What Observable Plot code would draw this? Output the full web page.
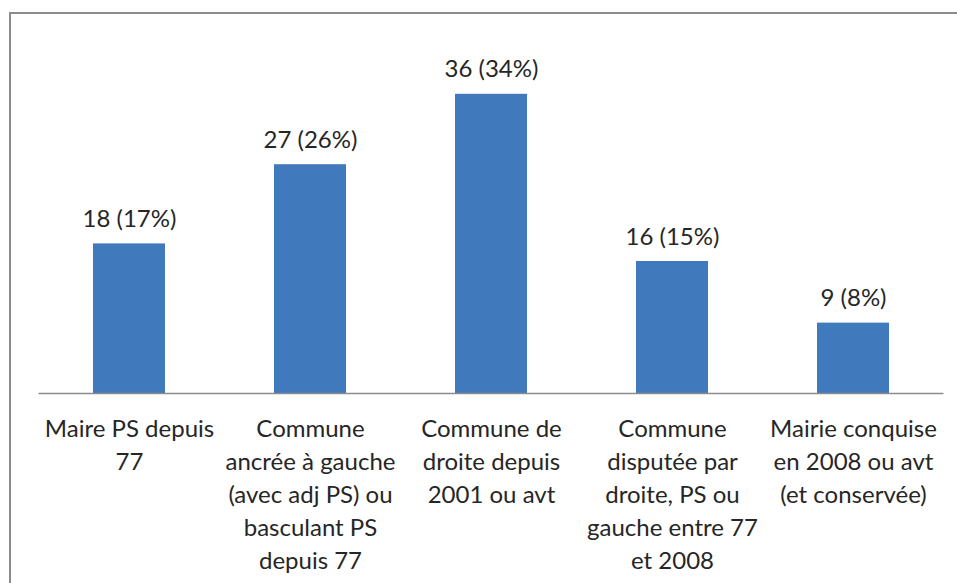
<!DOCTYPE html>
<html>
<head>
<meta charset="utf-8">
<script src="https://cdn.jsdelivr.net/npm/d3@7"></script>
<script src="https://cdn.jsdelivr.net/npm/@observablehq/plot@0.6"></script>
<style>
  html, body { margin: 0; padding: 0; background: #fff; width: 957px; height: 583px; overflow: hidden; }
  #frame { position: absolute; left: 9px; top: 12px; width: 1100px; height: 800px;
           border-top: 2px solid #8c8c8c; border-left: 2px solid #8c8c8c; box-sizing: border-box; }
  #chart { position: absolute; left: 0; top: 0; }
</style>
</head>
<body>
<div id="frame"></div>
<div id="chart"></div>
<script>
const categories = [
  "Maire PS depuis\n77",
  "Commune\nancrée à gauche\n(avec adj PS) ou\nbasculant PS\ndepuis 77",
  "Commune de\ndroite depuis\n2001 ou avt",
  "Commune\ndisputée par\ndroite, PS ou\ngauche entre 77\net 2008",
  "Mairie conquise\nen 2008 ou avt\n(et conservée)"
];
const counts = [18, 27, 36, 16, 9];
const percents = [17, 26, 34, 15, 8];

const data = categories.map((c, i) => ({
  category: c,
  pct: percents[i],
  label: `${counts[i]} (${percents[i]}%)`
}));

const font = "Lato, 'Open Sans', sans-serif";
const fs = 24;

const chart = Plot.plot({
  width: 957,
  height: 583,
  marginLeft: 38.5,
  marginRight: 13.5,
  marginTop: 41,
  marginBottom: 190,
  style: { fontFamily: font, background: "transparent" },
  x: { domain: categories, paddingInner: 0.602, paddingOuter: 0.301, axis: null },
  y: { domain: [0, 40], axis: null },
  marks: [
    Plot.barY(data, { x: "category", y: "pct", fill: "#4179bd" }),
    Plot.ruleY([0], { stroke: "#8c8c8c", strokeWidth: 1.5 }),
    Plot.text(data, {
      x: "category", y: "pct", text: "label",
      lineAnchor: "bottom", dy: -17, fontSize: fs, fill: "#262626"
    }),
    Plot.text(data, {
      x: "category", y: () => 0, text: "category",
      lineAnchor: "top", dy: 20, fontSize: fs, lineHeight: 33 / fs, fill: "#262626"
    })
  ]
});
document.getElementById("chart").appendChild(chart);
</script>
</body>
</html>
